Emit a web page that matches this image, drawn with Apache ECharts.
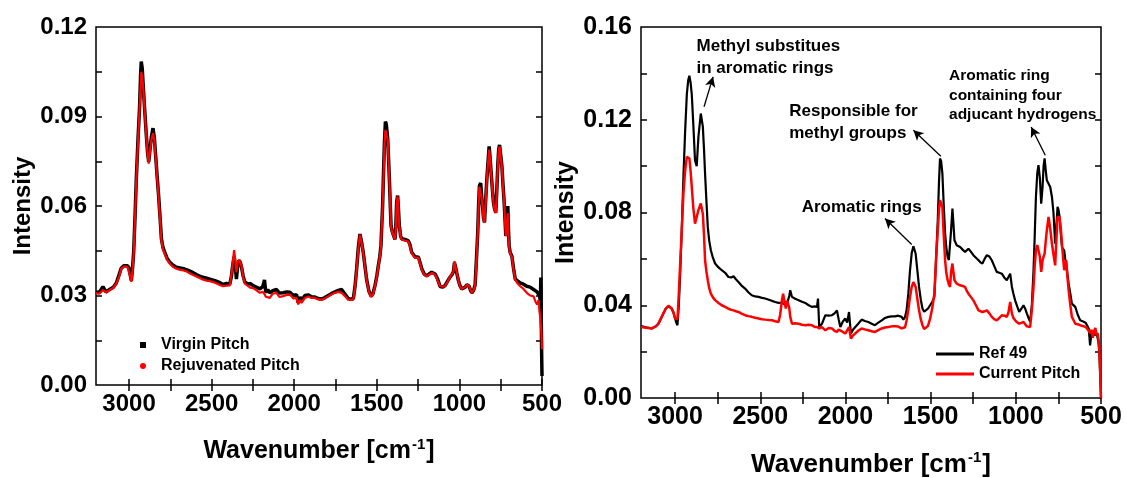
<!DOCTYPE html>
<html>
<head>
<meta charset="utf-8">
<title>Raman spectra</title>
<script src="https://cdn.jsdelivr.net/npm/echarts@6/dist/echarts.min.js"></script>
<style>html,body{margin:0;padding:0;background:#fff}#chart{width:1127px;height:478px}</style>
</head>
<body>
<div id="chart"></div>
<script>
// ---- left panel: virgin vs rejuvenated pitch ----
const leftWave = [3200,3180,3158,3140,3118,3095,3077,3060,3047,3030,3021,3010,3000,2993,2986,2979,2972,2964,2956,2946,2936,2930,2926,2920,2915,2905,2895,2888,2881,2873,2865,2855,2847,2839,2830,2821,2812,2804,2795,2784,2770,2754,2735,2713,2690,2670,2653,2625,2592,2560,2530,2511,2480,2450,2431,2410,2390,2380,2374,2364,2357,2350,2342,2334,2326,2319,2309,2299,2280,2265,2249,2230,2208,2190,2180,2172,2160,2148,2130,2107,2090,2067,2045,2026,2005,1986,1976,1965,1956,1935,1915,1895,1875,1855,1834,1815,1794,1773,1753,1733,1713,1693,1673,1655,1642,1632,1622,1612,1602,1592,1582,1572,1562,1548,1535,1524,1511,1500,1491,1482,1475,1465,1459,1454,1448,1443,1434,1429,1424,1414,1407,1400,1390,1385,1380,1374,1369,1364,1356,1349,1330,1309,1299,1289,1269,1248,1238,1228,1213,1198,1183,1168,1147,1132,1117,1100,1087,1070,1056,1045,1036,1030,1023,1016,1006,996,986,976,965,955,941,933,925,915,905,897,889,884,879,871,865,860,854,848,841,834,827,820,814,808,801,794,787,780,773,767,762,757,750,743,736,729,719,712,707,703,699,693,682,672,662,650,632,612,592,572,551,540,530,521,515,510,507,504,502,500];
const virginPitch = [0.0312,0.0310,0.0330,0.0312,0.0320,0.0328,0.0342,0.0370,0.0392,0.0400,0.0405,0.0400,0.0392,0.0370,0.0350,0.0390,0.0445,0.0560,0.0690,0.0820,0.0935,0.1040,0.1084,0.1060,0.1010,0.0920,0.0835,0.0780,0.0748,0.0790,0.0830,0.0861,0.0830,0.0770,0.0700,0.0635,0.0560,0.0490,0.0462,0.0445,0.0425,0.0412,0.0402,0.0395,0.0392,0.0390,0.0387,0.0380,0.0370,0.0362,0.0358,0.0355,0.0350,0.0343,0.0337,0.0340,0.0338,0.0365,0.0395,0.0430,0.0400,0.0355,0.0400,0.0418,0.0410,0.0395,0.0365,0.0345,0.0338,0.0340,0.0333,0.0328,0.0322,0.0330,0.0352,0.0310,0.0320,0.0309,0.0316,0.0320,0.0308,0.0309,0.0312,0.0311,0.0300,0.0303,0.0276,0.0295,0.0282,0.0300,0.0302,0.0296,0.0295,0.0290,0.0288,0.0293,0.0300,0.0307,0.0312,0.0317,0.0320,0.0305,0.0290,0.0287,0.0290,0.0330,0.0390,0.0460,0.0506,0.0478,0.0444,0.0400,0.0355,0.0315,0.0298,0.0305,0.0333,0.0365,0.0400,0.0430,0.0467,0.0600,0.0720,0.0810,0.0883,0.0875,0.0825,0.0760,0.0690,0.0535,0.0515,0.0512,0.0488,0.0530,0.0612,0.0635,0.0590,0.0535,0.0500,0.0490,0.0488,0.0483,0.0470,0.0445,0.0430,0.0428,0.0410,0.0390,0.0372,0.0366,0.0372,0.0378,0.0372,0.0355,0.0330,0.0328,0.0333,0.0350,0.0362,0.0370,0.0380,0.0410,0.0395,0.0376,0.0350,0.0332,0.0322,0.0320,0.0328,0.0336,0.0331,0.0318,0.0309,0.0316,0.0335,0.0420,0.0512,0.0600,0.0668,0.0677,0.0630,0.0600,0.0560,0.0545,0.0620,0.0690,0.0745,0.0800,0.0760,0.0712,0.0660,0.0612,0.0590,0.0578,0.0660,0.0745,0.0790,0.0805,0.0770,0.0735,0.0670,0.0612,0.0500,0.0550,0.0600,0.0520,0.0467,0.0445,0.0431,0.0390,0.0355,0.0350,0.0342,0.0338,0.0331,0.0328,0.0320,0.0318,0.0312,0.0315,0.0300,0.0280,0.0360,0.0200,0.0100,0.0030];
const rejuvenatedPitch = [0.0308,0.0306,0.0318,0.0310,0.0318,0.0326,0.0340,0.0365,0.0390,0.0398,0.0403,0.0396,0.0390,0.0365,0.0346,0.0385,0.0440,0.0555,0.0686,0.0810,0.0930,0.1000,0.1050,0.1030,0.1005,0.0915,0.0830,0.0775,0.0742,0.0785,0.0820,0.0844,0.0820,0.0764,0.0695,0.0630,0.0552,0.0485,0.0455,0.0440,0.0420,0.0407,0.0396,0.0390,0.0386,0.0384,0.0381,0.0372,0.0364,0.0355,0.0350,0.0348,0.0343,0.0335,0.0331,0.0333,0.0334,0.0370,0.0400,0.0452,0.0420,0.0378,0.0410,0.0420,0.0410,0.0398,0.0362,0.0340,0.0332,0.0326,0.0325,0.0318,0.0309,0.0312,0.0305,0.0296,0.0300,0.0292,0.0306,0.0309,0.0295,0.0298,0.0302,0.0303,0.0290,0.0292,0.0270,0.0285,0.0275,0.0292,0.0297,0.0292,0.0292,0.0287,0.0286,0.0290,0.0297,0.0304,0.0309,0.0312,0.0309,0.0298,0.0286,0.0285,0.0287,0.0328,0.0387,0.0457,0.0504,0.0475,0.0442,0.0398,0.0353,0.0312,0.0295,0.0302,0.0331,0.0362,0.0398,0.0428,0.0465,0.0599,0.0700,0.0800,0.0855,0.0861,0.0822,0.0755,0.0688,0.0532,0.0512,0.0510,0.0487,0.0520,0.0610,0.0632,0.0585,0.0532,0.0497,0.0487,0.0484,0.0481,0.0465,0.0442,0.0426,0.0426,0.0406,0.0387,0.0370,0.0364,0.0370,0.0376,0.0370,0.0350,0.0331,0.0330,0.0331,0.0348,0.0364,0.0372,0.0381,0.0415,0.0395,0.0376,0.0350,0.0331,0.0322,0.0320,0.0328,0.0336,0.0331,0.0318,0.0309,0.0316,0.0331,0.0415,0.0510,0.0590,0.0665,0.0660,0.0625,0.0599,0.0555,0.0543,0.0615,0.0688,0.0740,0.0789,0.0755,0.0710,0.0655,0.0610,0.0588,0.0576,0.0655,0.0744,0.0785,0.0800,0.0765,0.0733,0.0665,0.0610,0.0498,0.0545,0.0576,0.0500,0.0465,0.0440,0.0430,0.0385,0.0353,0.0342,0.0331,0.0322,0.0309,0.0300,0.0297,0.0280,0.0270,0.0285,0.0245,0.0225,0.0200,0.0175,0.0150,0.0120];

// ---- right panel: Ref 49 vs current pitch ----
const rightWave = [3200,3170,3137,3115,3098,3085,3069,3055,3039,3030,3020,3010,3000,2993,2986,2978,2971,2961,2951,2941,2931,2923,2916,2909,2902,2893,2883,2873,2863,2849,2837,2830,2824,2816,2808,2800,2790,2778,2765,2745,2726,2706,2687,2670,2657,2643,2628,2610,2589,2570,2550,2530,2510,2490,2471,2450,2432,2412,2393,2383,2373,2366,2358,2350,2343,2338,2330,2324,2314,2295,2275,2255,2236,2216,2197,2180,2167,2161,2154,2138,2118,2098,2079,2064,2050,2040,2030,2015,2001,1990,1979,1968,1955,1944,1925,1905,1886,1866,1846,1827,1807,1787,1768,1748,1728,1709,1690,1680,1670,1660,1650,1641,1631,1621,1611,1601,1588,1578,1568,1558,1548,1538,1529,1516,1503,1490,1478,1468,1458,1451,1445,1438,1431,1423,1415,1408,1400,1393,1386,1380,1372,1366,1360,1347,1337,1327,1312,1298,1288,1278,1263,1249,1234,1219,1208,1196,1183,1170,1155,1141,1127,1112,1097,1082,1068,1053,1043,1033,1023,1014,1004,992,980,967,955,945,935,925,916,906,896,889,882,874,867,859,851,843,837,831,824,818,808,798,788,779,769,762,755,749,743,736,729,722,716,710,704,697,690,680,671,661,651,637,622,605,590,583,572,564,556,548,540,533,526,520,515,510,505,500];
const ref49 = [0.0310,0.0305,0.0300,0.0308,0.0320,0.0340,0.0364,0.0385,0.0396,0.0395,0.0386,0.0370,0.0343,0.0325,0.0314,0.0400,0.0520,0.0720,0.0954,0.1150,0.1310,0.1370,0.1390,0.1360,0.1310,0.1180,0.1025,0.1000,0.1126,0.1227,0.1170,0.1070,0.0968,0.0850,0.0738,0.0680,0.0637,0.0605,0.0580,0.0563,0.0551,0.0540,0.0522,0.0520,0.0525,0.0512,0.0500,0.0485,0.0472,0.0456,0.0443,0.0438,0.0436,0.0432,0.0429,0.0424,0.0419,0.0414,0.0410,0.0410,0.0410,0.0410,0.0405,0.0405,0.0405,0.0410,0.0440,0.0465,0.0436,0.0428,0.0422,0.0415,0.0410,0.0400,0.0393,0.0395,0.0393,0.0429,0.0306,0.0320,0.0357,0.0355,0.0357,0.0365,0.0378,0.0340,0.0306,0.0330,0.0343,0.0325,0.0371,0.0278,0.0295,0.0300,0.0320,0.0338,0.0332,0.0328,0.0320,0.0314,0.0325,0.0335,0.0345,0.0350,0.0352,0.0352,0.0355,0.0357,0.0350,0.0338,0.0350,0.0378,0.0450,0.0551,0.0625,0.0654,0.0623,0.0550,0.0479,0.0425,0.0386,0.0372,0.0371,0.0385,0.0400,0.0415,0.0436,0.0600,0.0767,0.0930,0.1033,0.1020,0.0968,0.0830,0.0709,0.0650,0.0608,0.0595,0.0587,0.0723,0.0817,0.0750,0.0680,0.0659,0.0655,0.0651,0.0640,0.0630,0.0625,0.0644,0.0630,0.0616,0.0605,0.0594,0.0585,0.0580,0.0600,0.0616,0.0610,0.0594,0.0570,0.0544,0.0540,0.0536,0.0520,0.0508,0.0500,0.0536,0.0479,0.0450,0.0421,0.0395,0.0371,0.0385,0.0400,0.0385,0.0364,0.0345,0.0328,0.0400,0.0551,0.0700,0.0867,0.0970,0.1004,0.0950,0.0838,0.0910,0.1000,0.1033,0.0980,0.0939,0.0939,0.0910,0.0867,0.0800,0.0666,0.0740,0.0824,0.0810,0.0780,0.0710,0.0650,0.0645,0.0637,0.0600,0.0580,0.0535,0.0493,0.0450,0.0407,0.0400,0.0393,0.0360,0.0335,0.0330,0.0325,0.0320,0.0300,0.0227,0.0280,0.0265,0.0290,0.0270,0.0280,0.0260,0.0240,0.0200,0.0100,0.0000];
const currentPitch = [0.0306,0.0303,0.0300,0.0308,0.0320,0.0340,0.0364,0.0385,0.0398,0.0396,0.0386,0.0370,0.0343,0.0335,0.0340,0.0450,0.0565,0.0720,0.0882,0.0980,0.1040,0.1045,0.1033,0.0980,0.0910,0.0820,0.0752,0.0745,0.0810,0.0839,0.0795,0.0700,0.0594,0.0545,0.0508,0.0475,0.0450,0.0434,0.0422,0.0410,0.0400,0.0393,0.0385,0.0380,0.0378,0.0374,0.0371,0.0364,0.0357,0.0353,0.0350,0.0346,0.0343,0.0340,0.0338,0.0336,0.0335,0.0331,0.0328,0.0360,0.0420,0.0450,0.0415,0.0386,0.0420,0.0422,0.0390,0.0350,0.0320,0.0322,0.0320,0.0316,0.0314,0.0316,0.0314,0.0306,0.0306,0.0306,0.0300,0.0306,0.0292,0.0302,0.0300,0.0290,0.0285,0.0295,0.0292,0.0285,0.0278,0.0292,0.0306,0.0256,0.0270,0.0278,0.0290,0.0300,0.0296,0.0292,0.0288,0.0285,0.0293,0.0300,0.0304,0.0306,0.0309,0.0309,0.0308,0.0306,0.0300,0.0292,0.0305,0.0335,0.0380,0.0436,0.0480,0.0500,0.0479,0.0428,0.0378,0.0340,0.0314,0.0298,0.0292,0.0310,0.0342,0.0390,0.0450,0.0600,0.0723,0.0810,0.0853,0.0850,0.0824,0.0700,0.0594,0.0540,0.0508,0.0490,0.0479,0.0544,0.0580,0.0540,0.0508,0.0493,0.0490,0.0486,0.0483,0.0479,0.0462,0.0450,0.0435,0.0421,0.0400,0.0378,0.0372,0.0371,0.0374,0.0378,0.0365,0.0350,0.0340,0.0335,0.0345,0.0357,0.0355,0.0350,0.0370,0.0414,0.0364,0.0345,0.0335,0.0326,0.0321,0.0324,0.0328,0.0318,0.0309,0.0306,0.0306,0.0380,0.0479,0.0570,0.0637,0.0660,0.0666,0.0610,0.0544,0.0594,0.0610,0.0623,0.0680,0.0723,0.0781,0.0730,0.0666,0.0620,0.0572,0.0680,0.0781,0.0785,0.0780,0.0730,0.0666,0.0600,0.0551,0.0570,0.0594,0.0520,0.0465,0.0400,0.0350,0.0335,0.0320,0.0318,0.0314,0.0310,0.0306,0.0300,0.0290,0.0280,0.0295,0.0260,0.0290,0.0302,0.0270,0.0280,0.0255,0.0216,0.0120,0.0000];

// tick values
const xLabels = [3000, 2500, 2000, 1500, 1000, 500];
const xTicks = [3000, 2750, 2500, 2250, 2000, 1750, 1500, 1250, 1000, 750, 500];
const leftYLabels = [0, 0.03, 0.06, 0.09, 0.12];
const leftYTicks = [0.015, 0.03, 0.045, 0.06, 0.075, 0.09, 0.105];
const rightYLabels = [0, 0.04, 0.08, 0.12, 0.16];
const rightYTicks = [0.02, 0.04, 0.06, 0.08, 0.1, 0.12, 0.14];

// annotations on the right panel (anchor = left edge / first line centre, in data units)
const annoteText = [
  ['Methyl substitues', 'in aromatic rings'],
  ['Responsible for', 'methyl groups'],
  ['Aromatic rings'],
  ['Aromatic ring', 'containing four', 'adjucant hydrogens'],
];
const annoteWave = [2874, 2330, 2257, 1392];
const annoteInt = [0.1518, 0.1237, 0.0824, 0.1388];
// arrows: [from wave, from int, to wave, to int]
const arrows = [
  [2830, 0.1256, 2777, 0.1385],
  [1440, 0.1043, 1601, 0.1155],
  [1611, 0.0662, 1768, 0.0774],
  [827, 0.1047, 910, 0.1169],
];

const FONT = '"Liberation Sans", Arial, sans-serif';
const zip = (xs, ys) => xs.map((x, i) => [x, ys[i]]);

const chart = echarts.init(document.getElementById('chart'), null, { renderer: 'canvas' });

function xAxisPair(grid, fs, gap) {
  const base = {
    gridIndex: grid, type: 'value', min: 500, max: 3200, inverse: true,
    splitLine: { show: false }, axisLine: { show: false },
    axisTick: { inside: true, length: 6, customValues: xTicks, lineStyle: { color: '#000', width: 1.5 } },
  };
  return [
    Object.assign({}, base, {
      position: 'bottom',
      axisLabel: { customValues: xLabels, formatter: (v) => String(v), color: '#000', fontWeight: 'bold', fontSize: fs, fontFamily: FONT, margin: 7 },
      name: '{a|Wavenumber [cm}{s|-1}{a|]}',
      nameLocation: 'middle', nameGap: gap,
      nameTextStyle: {
        rich: {
          a: { fontSize: fs + 1, fontWeight: 'bold', fontFamily: FONT, color: '#000' },
          s: { fontSize: 15, fontWeight: 'bold', fontFamily: FONT, color: '#000', padding: [0, 1, 14, 1] },
        },
      },
    }),
    Object.assign({}, base, { position: 'top', axisLabel: { show: false } }),
  ];
}

function yAxisPair(grid, max, labels, ticks, fs, gap) {
  const base = {
    gridIndex: grid, type: 'value', min: 0, max: max,
    splitLine: { show: false }, axisLine: { show: false },
    axisTick: { inside: true, length: 6, customValues: ticks, lineStyle: { color: '#000', width: 1.5 } },
  };
  return [
    Object.assign({}, base, {
      position: 'left',
      axisLabel: { customValues: labels, formatter: (v) => v.toFixed(2), color: '#000', fontWeight: 'bold', fontSize: fs, fontFamily: FONT, margin: 9 },
      name: 'Intensity', nameLocation: 'middle', nameGap: gap,
      nameTextStyle: { fontSize: fs, fontWeight: 'bold', fontFamily: FONT, color: '#000' },
    }),
    Object.assign({}, base, { position: 'right', axisLabel: { show: false } }),
  ];
}

chart.setOption({
  animation: false,
  backgroundColor: '#fff',
  grid: [
    { left: 96, top: 27, width: 446, height: 358, show: true, borderColor: '#000', borderWidth: 1.5, outerBoundsMode: 'none' },
    { left: 641, top: 27, width: 460, height: 371, show: true, borderColor: '#000', borderWidth: 1.5, outerBoundsMode: 'none' },
  ],
  xAxis: [].concat(xAxisPair(0, 24, 52), xAxisPair(1, 25, 52)),
  yAxis: [].concat(yAxisPair(0, 0.12, leftYLabels, leftYTicks, 24, 61), yAxisPair(1, 0.16, rightYLabels, rightYTicks, 25, 62)),
  legend: [
    {
      orient: 'vertical', left: 135, top: 332, itemWidth: 6, itemHeight: 6, itemGap: 5,
      textStyle: { fontSize: 16, fontWeight: 'bold', fontFamily: FONT, color: '#000', padding: [0, 0, 0, 10] },
      data: [{ name: 'Virgin Pitch', icon: 'rect' }, { name: 'Rejuvenated Pitch', icon: 'circle' }],
    },
    {
      orient: 'vertical', left: 931, top: 341, itemWidth: 38, itemHeight: 3, itemGap: 4,
      textStyle: { fontSize: 16, fontWeight: 'bold', fontFamily: FONT, color: '#000' },
      data: [{ name: 'Ref 49', icon: 'rect' }, { name: 'Current Pitch', icon: 'rect' }],
    },
  ],
  series: [
    {
      name: 'Virgin Pitch', type: 'line', xAxisIndex: 0, yAxisIndex: 0, symbol: 'none',
      data: zip(leftWave, virginPitch), lineStyle: { color: '#000', width: 3.5 }, itemStyle: { color: '#000' },
    },
    {
      name: 'Rejuvenated Pitch', type: 'line', xAxisIndex: 0, yAxisIndex: 0, symbol: 'none',
      data: zip(leftWave, rejuvenatedPitch), lineStyle: { color: '#f00', width: 2.2 }, itemStyle: { color: '#f00' },
    },
    {
      name: 'Ref 49', type: 'line', xAxisIndex: 2, yAxisIndex: 2, symbol: 'none',
      data: zip(rightWave, ref49), lineStyle: { color: '#000', width: 2.2 }, itemStyle: { color: '#000' },
      markLine: {
        silent: true, symbol: ['none', 'arrow'], symbolSize: [8, 10],
        label: { show: false },
        lineStyle: { color: '#000', width: 1.3, type: 'solid' },
        data: arrows.map((a) => [{ coord: [a[0], a[1]] }, { coord: [a[2], a[3]] }]),
      },
    },
    {
      name: 'Current Pitch', type: 'line', xAxisIndex: 2, yAxisIndex: 2, symbol: 'none',
      data: zip(rightWave, currentPitch), lineStyle: { color: '#f00', width: 2.5 }, itemStyle: { color: '#f00' },
    },
  ],
});

// annotation texts placed through the right panel's own axes
const annoteSize = [17, 17, 17, 15.5];
const annoteLH = [22.3, 22.3, 22.3, 19.2];
chart.setOption({
  graphic: annoteText.map((lines, i) => {
    const p = chart.convertToPixel({ xAxisIndex: 2, yAxisIndex: 2 }, [annoteWave[i], annoteInt[i]]);
    return {
      type: 'text', x: p[0], y: p[1] - annoteLH[i] / 2, z: 10,
      style: {
        text: lines.join('\n'), fill: '#000', lineHeight: annoteLH[i],
        font: 'bold ' + annoteSize[i] + 'px ' + FONT, verticalAlign: 'top', align: 'left',
      },
    };
  }),
});
</script>
</body>
</html>
